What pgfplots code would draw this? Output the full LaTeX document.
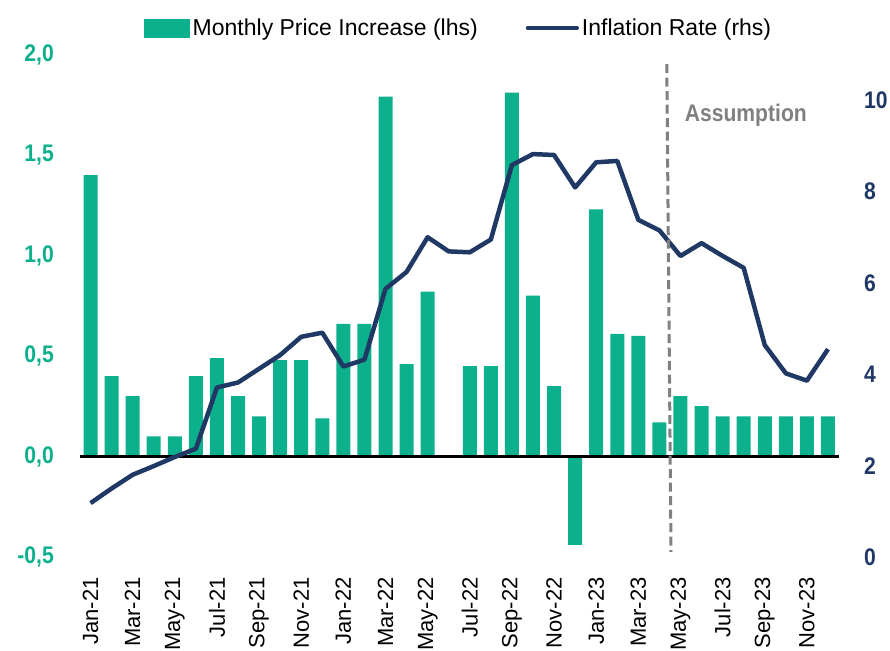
\documentclass[border=0pt]{standalone}
\usepackage{fontspec}
\setmainfont{Liberation Sans}
\newfontfamily\condfont{Liberation Sans}[FakeStretch=0.88]
\usepackage{pgfplots}
\pgfplotsset{compat=1.18}
\definecolor{bargreen}{HTML}{0DB08C}
\definecolor{navy}{HTML}{1F3864}
\definecolor{dgray}{HTML}{808080}

\pgfplotstableread{
x y
0 1.40
1 0.40
2 0.30
3 0.10
4 0.10
5 0.40
6 0.49
7 0.30
8 0.20
9 0.48
10 0.48
11 0.19
12 0.66
13 0.66
14 1.79
15 0.46
16 0.82
17 0.00
18 0.45
19 0.45
20 1.81
21 0.80
22 0.35
23 -0.44
24 1.23
25 0.61
26 0.60
27 0.17
28 0.30
29 0.25
30 0.20
31 0.20
32 0.20
33 0.20
34 0.20
35 0.20
}\bars

\pgfplotstableread{
x y
0 1.18
1 1.50
2 1.80
3 1.99
4 2.19
5 2.37
6 3.71
7 3.82
8 4.12
9 4.42
10 4.82
11 4.91
12 4.17
13 4.32
14 5.87
15 6.24
16 7.00
17 6.69
18 6.67
19 6.95
20 8.58
21 8.82
22 8.80
23 8.09
24 8.64
25 8.67
26 7.38
27 7.15
28 6.59
29 6.87
30 6.59
31 6.33
32 4.64
33 4.02
34 3.86
35 4.55
}\infl

\begin{document}
\begin{tikzpicture}[font=\fontsize{22bp}{26bp}\selectfont]
\pgfplotsset{
 base/.style={
  scale only axis, width=758.5bp, height=502.5bp,
  xmin=-0.5, xmax=35.5,
  axis line style={draw=none},
  major tick length=0pt,
  /pgf/number format/assume math mode=true,
  clip=false,
 }
}
\begin{axis}[base, name=ax,
  ymin=-0.5, ymax=2, ytick={-0.5,0,0.5,1,1.5,2},
  yticklabel style={font=\condfont\bfseries\fontsize{24bp}{28bp}\selectfont, text=bargreen, anchor=east, inner sep=0pt, xshift=-26bp,
    /pgf/number format/.cd, fixed, fixed zerofill, precision=1, use comma},
  xtick={0,2,...,34},
  xticklabels={Jan-21,Mar-21,May-21,Jul-21,Sep-21,Nov-21,Jan-22,Mar-22,May-22,Jul-22,Sep-22,Nov-22,Jan-23,Mar-23,May-23,Jul-23,Sep-23,Nov-23},
  xticklabel style={rotate=90, anchor=east, inner sep=0pt, xshift=-20bp, font=\fontsize{22bp}{26bp}\selectfont, text=black},
]
\addplot[ybar, bar width=14bp, fill=bargreen, draw=none] table[x=x,y=y] {\bars};
\draw[black, line width=2.7bp] (axis cs:-0.5,0) -- (axis cs:35.5,0);
\end{axis}
\begin{axis}[base,
  ymin=0, ymax=11, ytick={0,2,...,10},
  yticklabel pos=right,
  xtick=\empty,
  yticklabel style={font=\condfont\bfseries\fontsize{24bp}{28bp}\selectfont, text=navy, anchor=west, inner sep=0pt, xshift=25.5bp},
  legend style={draw=none, fill=none, legend columns=2, at={(0.5,1)}, anchor=center, yshift=26.5bp,
    font=\fontsize{23bp}{27bp}\selectfont, inner sep=0pt, nodes={inner sep=3bp},
    /tikz/every even column/.append style={column sep=45bp}},
  legend cell align=left,
]
\addlegendimage{legend image code/.code={\fill[bargreen] (0bp,-9bp) rectangle (45bp,9bp);}}
\addlegendentry{Monthly Price Increase (lhs)}
\addplot[navy, line width=4.5bp, line join=round,
  legend image code/.code={\draw[navy, line width=4.2bp, line cap=round] (0bp,0bp) -- (49bp,0bp);}]
  table[x=x,y=y] {\infl};
\addlegendentry{Inflation Rate (rhs)}
\draw[dgray, line width=3bp, dash pattern=on 9bp off 4.5bp] (axis cs:27.35,10.79) -- (axis cs:27.55,0.11);
\node[text=dgray, font=\condfont\bfseries\fontsize{24bp}{28bp}\selectfont] at (axis cs:31.1,9.66) {Assumption};
\end{axis}
\pgfresetboundingbox
\path[use as bounding box] ([shift={(-80bp,-94bp)}]ax.south west) rectangle ++(890bp,651bp);
\end{tikzpicture}
\end{document}
